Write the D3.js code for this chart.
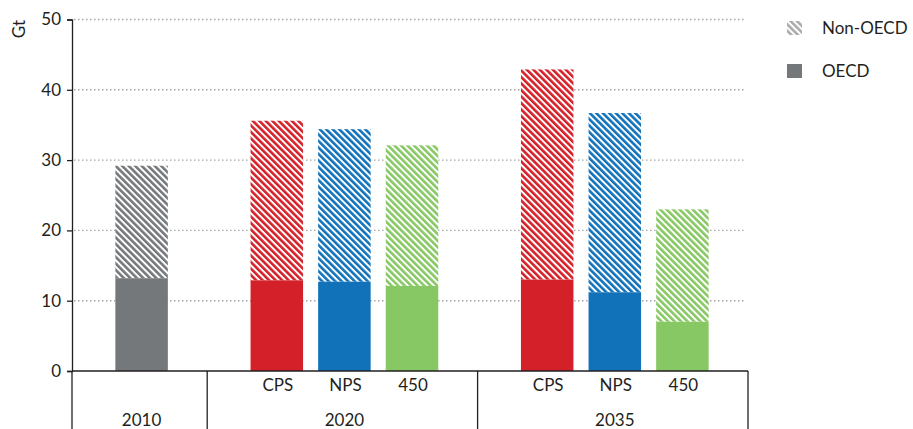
<!DOCTYPE html>
<html><head><meta charset="utf-8">
<script src="https://cdn.jsdelivr.net/npm/d3@7"></script>
<style>body{margin:0;background:#fff}svg{display:block}text{font-family:Lato,"Open Sans",sans-serif;fill:#231f20}</style>
</head><body><svg id="c" width="913" height="429"></svg>
<script>
const groups = ["2010","2020","2035"];
const scenarios = ["", "CPS","NPS","450","CPS","NPS","450"];
const barGroup = ["2010","2020","2020","2020","2035","2035","2035"];
const slotIndex = [1,3,4,5,7,8,9];
const oecd = [13.2,12.9,12.7,12.1,13.0,11.2,7.0];
const total = [29.2,35.6,34.4,32.1,42.9,36.7,23.0];
const colorKey = ["gray","red","blue","green","red","blue","green"];
const yTicks = [0,10,20,30,40,50];
const legendLabels = ["Non-OECD","OECD"];
const groupBounds = [0,2,6,10];
const groupCenters = [1,4,8];

const colors = {gray:"#75787b", red:"#d42028", blue:"#1172ba", green:"#88c864", legend:"#a9abad"};
const svg = d3.select("#c");
const x = d3.scaleLinear().domain([0,10]).range([72,748]);
const y = d3.scaleLinear().domain([0,50]).range([371,19.5]);
const bw = 52.5, off = 2;

const defs = svg.append("defs");
Object.entries(colors).forEach(([k,c])=>{
  const p = defs.append("pattern").attr("id","h-"+k).attr("patternUnits","userSpaceOnUse")
    .attr("width",4.6).attr("height",10).attr("patternTransform","rotate(-45)");
  p.append("rect").attr("width",4.6).attr("height",10).attr("fill","#fff");
  p.append("rect").attr("width",2.6).attr("height",10).attr("fill",c);
});

// grid
svg.append("g").selectAll("line").data(yTicks.filter(d=>d>0)).join("line")
  .attr("x1",x(0)+2).attr("x2",x(10)-3).attr("y1",d=>y(d)).attr("y2",d=>y(d))
  .attr("stroke","#a6a6a6").attr("stroke-width",1.4).attr("stroke-dasharray","1.5,2.5");

// bars
const bars = svg.append("g");
bars.selectAll("rect.non").data(d3.range(oecd.length)).join("rect")
  .attr("x",i=>x(slotIndex[i])+off-bw/2).attr("width",bw)
  .attr("y",i=>y(total[i])).attr("height",i=>y(oecd[i])-y(total[i]))
  .attr("fill",i=>`url(#h-${colorKey[i]})`);
bars.selectAll("rect.o").data(d3.range(oecd.length)).join("rect")
  .attr("x",i=>x(slotIndex[i])+off-bw/2).attr("width",bw)
  .attr("y",i=>y(oecd[i])).attr("height",i=>y(0)-y(oecd[i]))
  .attr("fill",i=>colors[colorKey[i]]);

// y axis
const ya = svg.append("g").attr("transform",`translate(${x(0)},0)`)
  .call(d3.axisLeft(y).tickValues(yTicks).tickSize(5).tickPadding(6));
ya.select(".domain").attr("stroke","#231f20").attr("stroke-width",1.3);
ya.selectAll(".tick line").attr("stroke","#231f20").attr("stroke-width",1.3);
ya.selectAll(".tick text").style("font-family","Lato,sans-serif").style("font-size","17px").attr("fill","#231f20");

svg.append("text").attr("transform",`translate(25,29) rotate(-90)`).attr("text-anchor","middle")
  .style("font-size","17px").text("Gt");

// x axis + category frame
svg.append("line").attr("x1",x(0)).attr("x2",x(10)).attr("y1",y(0)).attr("y2",y(0))
  .attr("stroke","#231f20").attr("stroke-width",1.3);
svg.append("g").selectAll("line").data(groupBounds).join("line")
  .attr("x1",d=>x(d)).attr("x2",d=>x(d)).attr("y1",y(0)).attr("y2",429)
  .attr("stroke","#231f20").attr("stroke-width",1.3);
svg.append("g").selectAll("text").data(d3.range(scenarios.length)).join("text")
  .attr("x",i=>x(slotIndex[i])+off+1).attr("y",391).attr("text-anchor","middle")
  .style("font-size","17px").text(i=>scenarios[i]);
svg.append("g").selectAll("text").data(groups).join("text")
  .attr("x",(d,i)=>x(groupCenters[i])+off).attr("y",426).attr("text-anchor","middle")
  .style("font-size","17px").text(d=>d);

// legend
const lg = svg.append("g");
lg.append("rect").attr("x",787).attr("y",21).attr("width",15).attr("height",14).attr("fill","url(#h-legend)");
lg.append("rect").attr("x",787).attr("y",64).attr("width",15).attr("height",14).attr("fill",colors.gray);
lg.selectAll("text").data(legendLabels).join("text")
  .attr("x",822).attr("y",(d,i)=>34+i*43).style("font-size","17px").text(d=>d);
</script></body></html>
